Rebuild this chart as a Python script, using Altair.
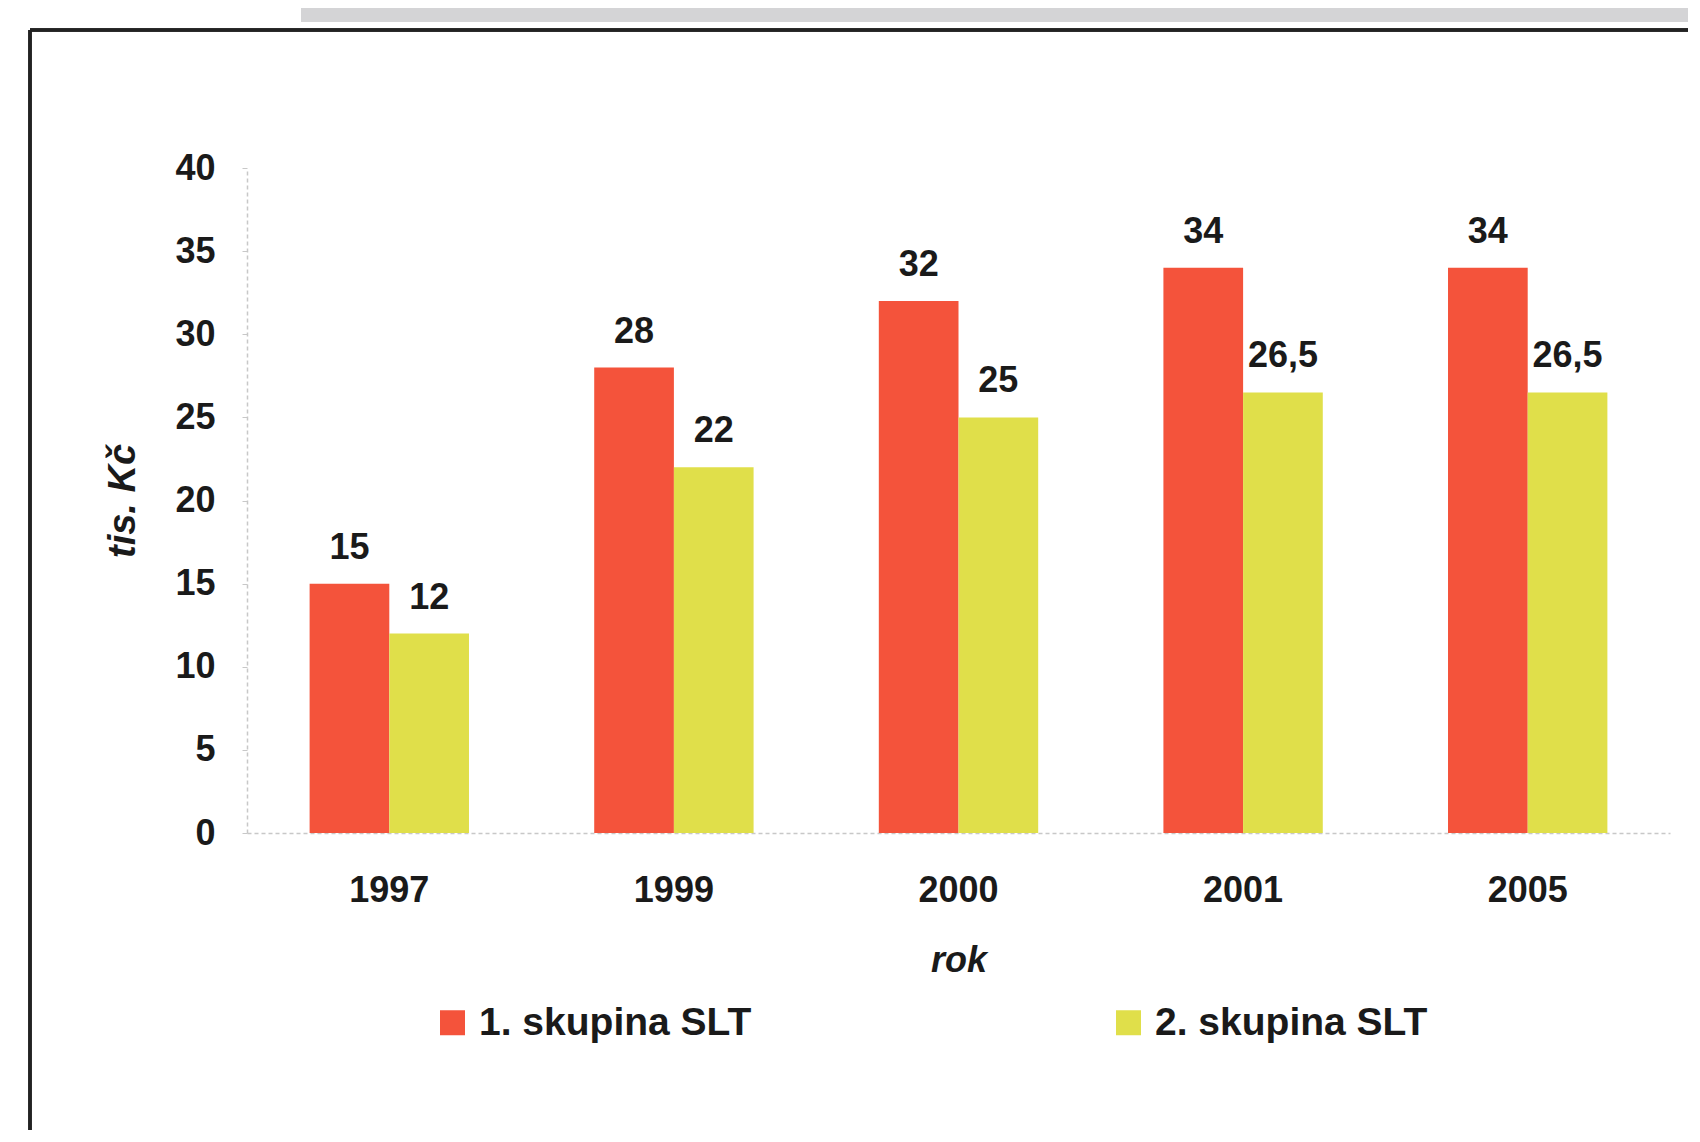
import altair as alt
import pandas as pd

years = ["1997", "1999", "2000", "2001", "2005"]
group1 = [15, 28, 32, 34, 34]
group2 = [12, 22, 25, 26.5, 26.5]
series = ["1. skupina SLT", "2. skupina SLT"]
colors = ["#f4533b", "#e0df4a"]
y_ticks = [0, 5, 10, 15, 20, 25, 30, 35, 40]


def fmt(v):
    s = ("%g" % v)
    return s.replace(".", ",")


rows = []
for i, yr in enumerate(years):
    rows.append({"rok": yr, "skupina": series[0], "val": group1[i], "lab": fmt(group1[i])})
    rows.append({"rok": yr, "skupina": series[1], "val": group2[i], "lab": fmt(group2[i])})
df = pd.DataFrame(rows)

FONT = "Liberation Sans"
W, H = 1423, 665
TOP = 160

x_enc = alt.X(
    "rok:N",
    sort=years,
    scale=alt.Scale(paddingInner=0.44, paddingOuter=0.22),
    axis=alt.Axis(
        title="rok",
        labelAngle=0,
        labelFont=FONT,
        labelFontSize=36,
        labelFontWeight="bold",
        labelColor="#1a1a1a",
        labelPadding=40,
        ticks=False,
        domainColor="#c8c8c8",
        domainDash=[4, 3],
        domainWidth=1.5,
        titleFont=FONT,
        titleFontSize=36,
        titleFontWeight="bold",
        titleFontStyle="italic",
        titleColor="#1a1a1a",
        titlePadding=35,
    ),
)
xoff = alt.XOffset("skupina:N", sort=series, scale=alt.Scale(paddingInner=0, paddingOuter=0))
y_enc = alt.Y(
    "val:Q",
    scale=alt.Scale(domain=[0, 40], nice=False),
    axis=alt.Axis(
        title="tis. Kč",
        values=y_ticks,
        labelFont=FONT,
        labelFontSize=36,
        labelFontWeight="bold",
        labelColor="#1a1a1a",
        labelPadding=27,
        tickSize=5,
        tickColor="#c8c8c8",
        domainColor="#c8c8c8",
        domainDash=[4, 3],
        domainWidth=1.5,
        grid=False,
        titleFont=FONT,
        titleFontSize=38,
        titleFontWeight="bold",
        titleFontStyle="italic",
        titleColor="#1a1a1a",
        titleX=-124,
        titleBaseline="middle",
    ),
)

bars = alt.Chart(df).mark_bar().encode(
    x=x_enc,
    xOffset=xoff,
    y=y_enc,
    color=alt.Color(
        "skupina:N",
        sort=series,
        scale=alt.Scale(domain=series, range=colors),
        legend=alt.Legend(
            title=None,
            orient="none",
            legendX=186,
            legendY=835,
            direction="horizontal",
            columns=2,
            columnPadding=357,
            symbolType="square",
            symbolSize=625,
            symbolStrokeWidth=0,
            labelFont=FONT,
            labelFontSize=39,
            labelFontWeight="bold",
            labelColor="#1a1a1a",
            labelOffset=7,
            padding=0,
            labelLimit=400,
        ),
    ),
)

labels = alt.Chart(df).mark_text(
    font=FONT, fontSize=36, fontWeight="bold", color="#1a1a1a",
    baseline="alphabetic", dy=-25,
).encode(
    x=alt.X("rok:N", sort=years),
    xOffset=alt.XOffset("skupina:N", sort=series),
    y=alt.Y("val:Q"),
    text="lab:N",
)

# decorative scan frame and top gray strip
frame_left = alt.Chart(df).mark_rule(color="#222222", strokeWidth=2.5).encode(
    x=alt.value(-217), y=alt.value(30 - 8 - TOP), y2=alt.value(1100)
)
frame_top = alt.Chart(df).mark_rule(color="#222222", strokeWidth=2.5).encode(
    x=alt.value(-217), x2=alt.value(1500), y=alt.value(30 - 8 - TOP)
)
gray_strip = alt.Chart(df).mark_rect(color="#d4d4d6").encode(
    x=alt.value(54), x2=alt.value(1500), y=alt.value(-TOP - 10), y2=alt.value(22 - 8 - TOP)
)

chart = alt.layer(gray_strip, frame_left, frame_top, bars, labels).properties(
    width=W,
    height=H,
    autosize=alt.AutoSizeParams(type="none"),
    padding={"left": 239, "top": TOP, "right": 18, "bottom": 297},
    background="white",
).configure_view(stroke=None)

chart.save("out.html", embed_options={"renderer": "svg", "actions": False})
